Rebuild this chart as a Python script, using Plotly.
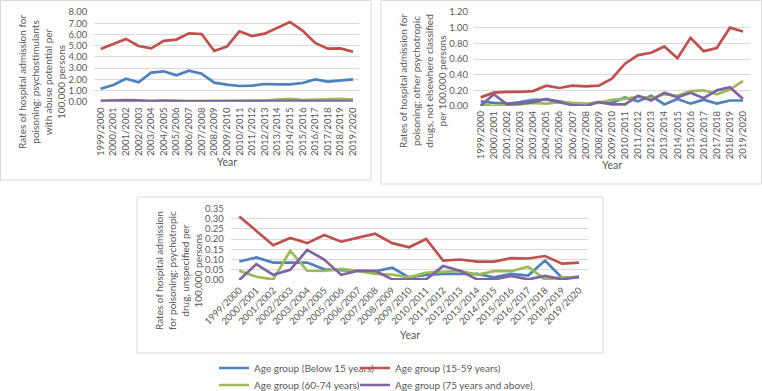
import plotly.graph_objects as go

years = ["1999/2000","2000/2001","2001/2002","2002/2003","2003/2004","2004/2005",
         "2005/2006","2006/2007","2007/2008","2008/2009","2009/2010","2010/2011",
         "2011/2012","2012/2013","2013/2014","2014/2015","2015/2016","2016/2017",
         "2017/2018","2018/2019","2019/2020"]

series_names = ["Age group (Below 15 years)", "Age group (15-59 years)",
                "Age group (60-74 years)", "Age group (75 years and above)"]
colors = ["#4F81BD", "#C0504D", "#9BBB59", "#8064A2"]

# Panel 1: psychostimulants with abuse potential
p1_below15 = [1.16,1.49,2.05,1.73,2.59,2.71,2.35,2.77,2.50,1.70,1.52,1.40,1.43,1.58,1.55,1.55,1.67,1.99,1.79,1.88,1.99]
p1_15_59   = [4.70,5.12,5.60,4.97,4.76,5.42,5.54,6.10,6.04,4.52,4.91,6.28,5.86,6.07,6.58,7.11,6.34,5.24,4.73,4.76,4.46]
p1_60_74   = [0.05,0.03,0.02,0.03,0.05,0.05,0.06,0.05,0.05,0.05,0.06,0.07,0.08,0.10,0.18,0.25,0.15,0.18,0.25,0.25,0.18]
p1_75plus  = [0.08,0.12,0.14,0.12,0.06,0.10,0.05,0.04,0.03,0.04,0.03,0.04,0.03,0.04,0.10,0.12,0.08,0.05,0.06,0.04,0.05]

# Panel 2: other psychotropic drugs, not elsewhere classified
p2_below15 = [0.06,0.04,0.03,0.05,0.08,0.08,0.06,0.03,0.02,0.05,0.04,0.11,0.06,0.13,0.02,0.09,0.03,0.08,0.03,0.07,0.07]
p2_15_59   = [0.11,0.17,0.18,0.18,0.19,0.26,0.23,0.26,0.25,0.26,0.35,0.54,0.65,0.68,0.76,0.61,0.87,0.70,0.74,1.00,0.95]
p2_60_74   = [0.02,0.00,0.01,0.02,0.04,0.03,0.05,0.04,0.03,0.04,0.08,0.09,0.12,0.10,0.15,0.13,0.19,0.20,0.15,0.21,0.32]
p2_75plus  = [0.00,0.15,0.02,0.03,0.05,0.09,0.05,0.01,0.00,0.05,0.02,0.02,0.13,0.07,0.17,0.11,0.17,0.10,0.20,0.24,0.09]

# Panel 3: psychotropic drug, unspecified
p3_below15 = [0.090,0.110,0.085,0.085,0.085,0.052,0.050,0.045,0.042,0.060,0.013,0.025,0.030,0.030,0.030,0.013,0.030,0.022,0.095,0.010,0.015]
p3_15_59   = [0.310,0.241,0.170,0.205,0.180,0.220,0.187,0.207,0.226,0.180,0.160,0.200,0.095,0.100,0.090,0.090,0.107,0.105,0.117,0.080,0.085]
p3_60_74   = [0.045,0.016,0.003,0.143,0.045,0.044,0.054,0.044,0.030,0.026,0.013,0.036,0.040,0.045,0.025,0.043,0.043,0.065,0.003,0.013,0.013]
p3_75plus  = [0.000,0.077,0.025,0.050,0.147,0.100,0.025,0.045,0.045,0.003,0.003,0.003,0.068,0.045,0.003,0.003,0.020,0.003,0.020,0.003,0.015]

panels = [
    ([p1_below15, p1_15_59, p1_60_74, p1_75plus], "x", "y"),
    ([p2_below15, p2_15_59, p2_60_74, p2_75plus], "x2", "y2"),
    ([p3_below15, p3_15_59, p3_60_74, p3_75plus], "x3", "y3"),
]

W, H = 762, 391
def px(v): return v / W
def py(v): return 1 - v / H

FONT = "Lato"
GRAY = "#595959"
GRID = "#D9D9D9"
legend_keys = ["legend", "legend2", "legend3", "legend4"]

fig = go.Figure()
for pi, (vals, xa, ya) in enumerate(panels):
    for si, v in enumerate(vals):
        fig.add_trace(go.Scatter(
            x=years, y=v, mode="lines", name=series_names[si],
            line=dict(color=colors[si], width=2.7),
            xaxis=xa, yaxis=ya,
            showlegend=(pi == 2),
            legend=legend_keys[si],
        ))

tickfont = dict(family=FONT, size=9.5, color=GRAY)
common_x = dict(type="category", range=[-0.5, 20.5], showgrid=False, zeroline=False,
                showline=False, ticks="", tickfont=tickfont, automargin=False)
common_y = dict(showgrid=True, gridcolor=GRID, gridwidth=1, zeroline=False, showline=False,
                ticks="", tickformat=".2f", tickfont=tickfont, automargin=False)

legend_pos = [(214, 368), (355, 368), (214, 385), (355, 385)]
legends = {}
for key, (lx, ly) in zip(legend_keys, legend_pos):
    legends[key] = dict(orientation="h", x=px(lx), xanchor="left", y=py(ly), yanchor="middle",
                        itemwidth=30, font=dict(family=FONT, size=10, color=GRAY),
                        bgcolor="rgba(0,0,0,0)", borderwidth=0)

fig.update_layout(
    template="none",
    width=W, height=H, margin=dict(l=0, r=0, t=0, b=0, autoexpand=False),
    paper_bgcolor="white", plot_bgcolor="white",
    xaxis=dict(common_x, domain=[px(94.4), px(359.3)], anchor="y", tickangle=-90, ticklabelstandoff=3),
    yaxis=dict(common_y, domain=[py(101.7), py(12)], anchor="x", range=[0, 8], dtick=1, ticklabelstandoff=6),
    xaxis2=dict(common_x, domain=[px(474.1), px(749.6)], anchor="y2", tickangle=-90, ticklabelstandoff=2),
    yaxis2=dict(common_y, domain=[py(106), py(12)], anchor="x2", range=[0, 1.2], dtick=0.2, ticklabelstandoff=5),
    xaxis3=dict(common_x, domain=[px(230.8), px(587.5)], anchor="y3", tickangle=-45, ticklabelstandoff=2),
    yaxis3=dict(common_y, domain=[py(280), py(208.3)], anchor="x3", range=[0, 0.35], dtick=0.05, ticklabelstandoff=6),
    showlegend=True,
    **legends,
)

# Panel borders
for (x0, y0, x1, y1) in [(0.5, 0.5, 371, 180), (381, 0.5, 761.5, 184), (137, 197, 603, 353)]:
    fig.add_shape(type="rect", xref="paper", yref="paper",
                  x0=px(x0), x1=px(x1), y0=py(y1), y1=py(y0),
                  line=dict(color=GRID, width=1), fillcolor="rgba(0,0,0,0)", layer="below")

titlefont = dict(family=FONT, size=10, color=GRAY)
ytitles = [
    ("Rates of hospital admission for<br>poisoning: psychostimulants<br>with abuse potential per<br>100,000 persons", 41, 82),
    ("Rates of hospital admission for<br>poisoning: other psychotropic<br>drugs, not elsewhere classified<br>per 100,000 persons", 422, 81),
    ("Rates of hospital admission<br>for poisoning: psychotropic<br>drug, unspecified per<br>100,000 persons", 178, 271),
]
for txt, cx, cy in ytitles:
    fig.add_annotation(text=txt, x=px(cx), y=py(cy), xref="paper", yref="paper",
                       textangle=-90, showarrow=False, font=titlefont, align="center",
                       xanchor="center", yanchor="middle")
for cx, cy in [(227, 162), (612, 165), (410, 335)]:
    fig.add_annotation(text="Year", x=px(cx), y=py(cy), xref="paper", yref="paper",
                       showarrow=False, font=dict(family=FONT, size=10.5, color=GRAY),
                       xanchor="center", yanchor="middle")

fig.write_html("out.html", config={"displayModeBar": False},
               post_script="document.body.style.margin='0';")
